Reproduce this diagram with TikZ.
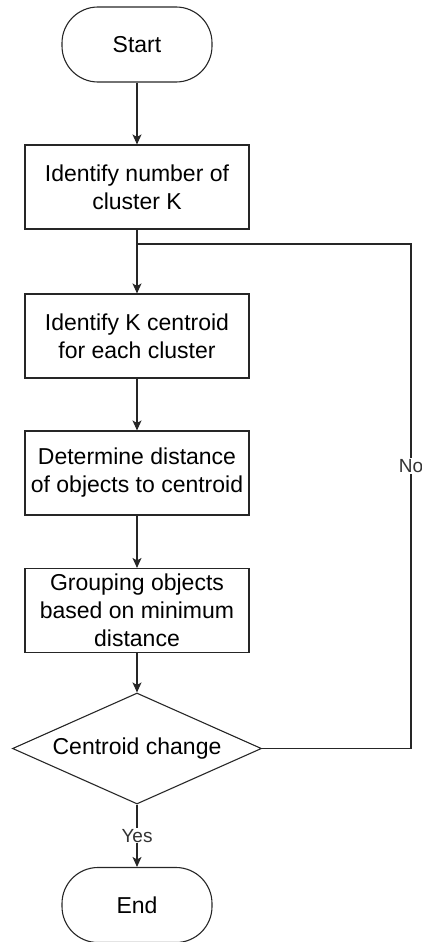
\documentclass[tikz,border=0pt]{standalone}
\usepackage{fontspec}
\setmainfont{Liberation Sans}
\usetikzlibrary{positioning}
\usetikzlibrary{arrows.meta}
\usetikzlibrary{shapes.geometric}

\tikzset{
  flowline/.style={line width=1.1pt, draw=black!85},
  flowarrow/.style={flowline, -{Stealth[length=10pt,width=9pt,inset=2.5pt]}},
  terminal/.style={draw=black!85, line width=1.1pt, rectangle, rounded corners=36pt,
                   minimum width=150pt, minimum height=75pt, font=\fontsize{23}{28}\selectfont},
  process/.style={draw=black!85, line width=1.1pt, rectangle, minimum width=224pt,
                  minimum height=84pt, inner sep=2pt, align=center,
                  font=\fontsize{23}{28}\selectfont},
  decision/.style={draw=black!85, line width=1.1pt, diamond, shape aspect=2.24,
                   minimum width=249pt, minimum height=111pt, inner sep=0pt,
                   font=\fontsize{23}{28}\selectfont},
  branchlabel/.style={fill=white, inner sep=1pt, text=black!80, font=\fontsize{19}{22}\selectfont}
}

\begin{document}
\begin{tikzpicture}[x=1pt, y=-1pt]
        \useasboundingbox (0,0) rectangle (421,942);

        % Define the nodes of the flow
        \node[terminal] (start) at (137,44.5) {Start};
        \node[process] (ident) at (137,187) {Identify number of\\cluster K};
        \node[process] (centr) at (137,336) {Identify K centroid\\for each cluster};
        \node[process] (dist) at (137,473) {Determine distance\\of objects to centroid};
        \node[process] (group) at (137,610.5) {Grouping objects\\based on minimum\\distance};
        \node[decision] (change) at (137,748.5) {Centroid change};
        \node[terminal] (end) at (137,905) {End};

        % Define the corners of the loop
        \coordinate (loopa) at (411,748.5);
        \coordinate (loopb) at (411,244);
        \coordinate (loopc) at (137,244);

        % Draw the lines
        \foreach \from/\to in {start/ident, ident/centr, centr/dist, dist/group, group/change}
        \draw[flowarrow] (\from) -- (\to);

        \draw[flowarrow] (change) -- node[branchlabel] (yes) {Yes} (end);
        \draw[flowline] (change.east) -- (loopa) -- node[branchlabel, pos=0.56] (no) {No} (loopb) -- (loopc);
\end{tikzpicture}
\end{document}
